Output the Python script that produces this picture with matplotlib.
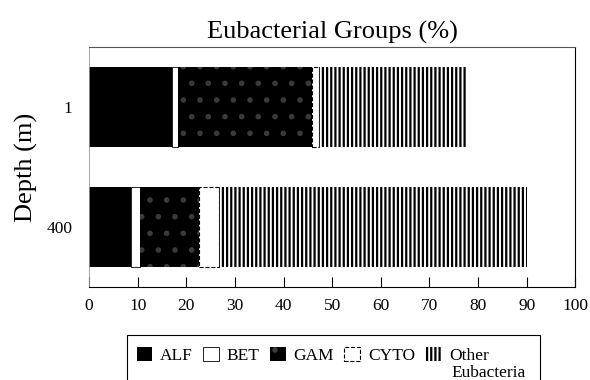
import matplotlib.pyplot as plt
from matplotlib.patches import Rectangle
import numpy as np

plt.rcParams['font.family'] = ['Liberation Serif', 'DejaVu Serif']
plt.rcParams['hatch.linewidth'] = 1.6

# data (percent of eubacteria per depth)
depths = ['400', '1']
groups = ['ALF', 'BET', 'GAM', 'CYTO', 'Other']
alf = [8.6, 17.0]
bet = [1.8, 1.2]
gam = [12.3, 27.6]
cyto = [4.1, 1.4]
other = [63.3, 30.4]

values = [alf, bet, gam, cyto, other]
faces = ['black', 'white', 'black', 'white', 'white']
edges = ['black', 'black', '#3a3a3a', 'black', 'black']
hatches = [None, None, '.', None, '||||']
styles = ['-', '-', '-', '--', '-']
lws = [0, 0.6, 0, 0.8, 0]

fig = plt.figure(figsize=(5.9, 3.8), dpi=100)
ax = fig.add_axes([0.151, 0.245, 0.824, 0.631])

y = np.arange(len(depths))
left = np.zeros(len(depths))
for vals, lab, fc, ec, h, ls, lw in zip(values, groups, faces, edges, hatches, styles, lws):
    ax.barh(y, vals, left=left, height=0.67, color=fc, edgecolor=ec,
            hatch=h, linestyle=ls, linewidth=lw, label=lab)
    left += np.array(vals)

ax.set_xlim(0, 100)
ax.set_ylim(-0.5, 1.5)
ax.set_xticks(np.arange(0, 101, 10))
ax.set_yticks(y)
ax.set_yticklabels(depths)
ax.tick_params(axis='x', direction='in', length=7, width=0.8, pad=8, labelsize=12.5)
ax.tick_params(axis='y', length=0, pad=12, labelsize=12.5)

ax.spines['left'].set_color('#999999')
ax.spines['left'].set_linewidth(0.6)
ax.spines['top'].set_color('#555555')
ax.spines['top'].set_linewidth(0.8)

ax.set_title('Eubacterial Groups (%)', fontsize=19, pad=6)
ax.set_ylabel('Depth (m)', fontsize=19, labelpad=6)

leg = fig.legend(loc='upper left', bbox_to_anchor=(128 / 590, 1 - 338 / 380),
                 ncol=5, fontsize=12.5, frameon=False,
                 borderaxespad=0, handlelength=0.9, handleheight=0.9,
                 handletextpad=0.45, columnspacing=0.6, borderpad=0.5)

# legend box, running past the bottom edge as in the chart
fig.patches.append(Rectangle((127 / 590, -0.05), (540 - 127) / 590, 0.05 + 1 - 335 / 380,
                             transform=fig.transFigure, fill=False,
                             edgecolor='black', linewidth=0.8))

# second line of the last legend label, set under "Other"
fig.canvas.draw()
bb = leg.get_texts()[-1].get_window_extent()
x0, y0 = fig.transFigure.inverted().transform((bb.x0 + 3, bb.y0 - 1))
fig.text(x0, y0, 'Eubacteria', fontsize=12.5, ha='left', va='top')

fig.savefig('out.png', dpi=100)
